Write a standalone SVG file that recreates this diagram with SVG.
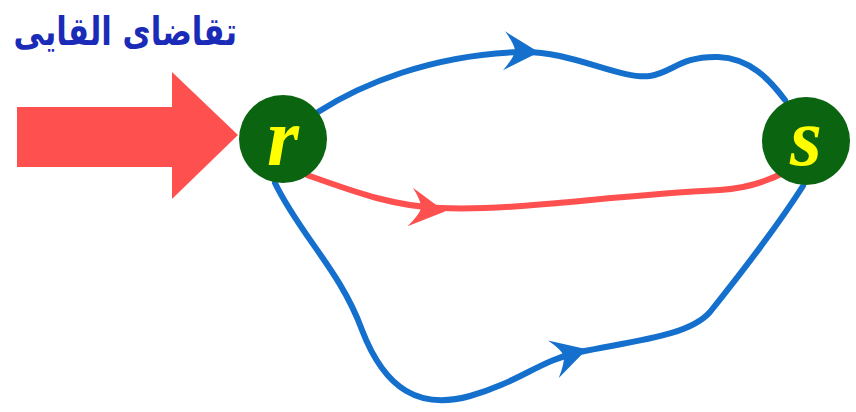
<svg xmlns="http://www.w3.org/2000/svg" width="856" height="412" viewBox="0 0 856 412">
<style>
.blue{fill:none;stroke:#1470cc;stroke-width:6;stroke-linecap:round}
.red{fill:none;stroke:#ff5050;stroke-width:6;stroke-linecap:round}
.node{fill:#0a6410}
.lbl{font-family:"Liberation Serif",serif;font-style:italic;font-weight:bold;font-size:82px;fill:#ffff00;text-anchor:middle}
</style>
<defs>
<path id="ah" d="M3,0 L-32,-19 Q-22,-7 -21,0 Q-22,7 -32,20 Z"/>
</defs>
<rect width="856" height="412" fill="#fff"/>
<text transform="translate(237,45) scale(0.83,1.05)" x="0" y="0" font-family="'DejaVu Sans','Noto Sans',sans-serif" font-weight="bold" font-size="37" fill="#1a2bb8" text-anchor="end">تقاضای القایی</text>
<path d="M17,107 H172 V72 L238,135 L172,199 V167 H17 Z" fill="#ff5050"/>
<g id="connectors">
<path class="blue" d="M318,112 C360,85 430,55 520,52 C570,50 620,80 650,76 C672,73 680,56 718,57 C750,58 770,80 785,100"/>
<use href="#ah" fill="#1470cc" transform="translate(536,52) rotate(3)"/>
<path class="red" d="M307,175 C350,190 390,206 440,208 C520,211 600,196 720,190 C750,188 770,180 785,172"/>
<use href="#ah" fill="#ff5050" transform="translate(442,211) rotate(8)"/>
<path class="blue" d="M275,183 C300,235 340,270 362,330 C385,390 420,410 470,396 C520,382 540,360 580,352 C640,340 690,335 710,312 C750,262 780,222 803,186"/>
<use href="#ah" fill="#1470cc" transform="translate(584,350) rotate(-16)"/>
</g>
<g id="node-r">
<circle class="node" cx="283" cy="139" r="44"/>
<text class="lbl" x="283" y="165">r</text>
</g>
<g id="node-s">
<circle class="node" cx="806" cy="141" r="44"/>
<text class="lbl" x="806" y="165">s</text>
</g>
</svg>
